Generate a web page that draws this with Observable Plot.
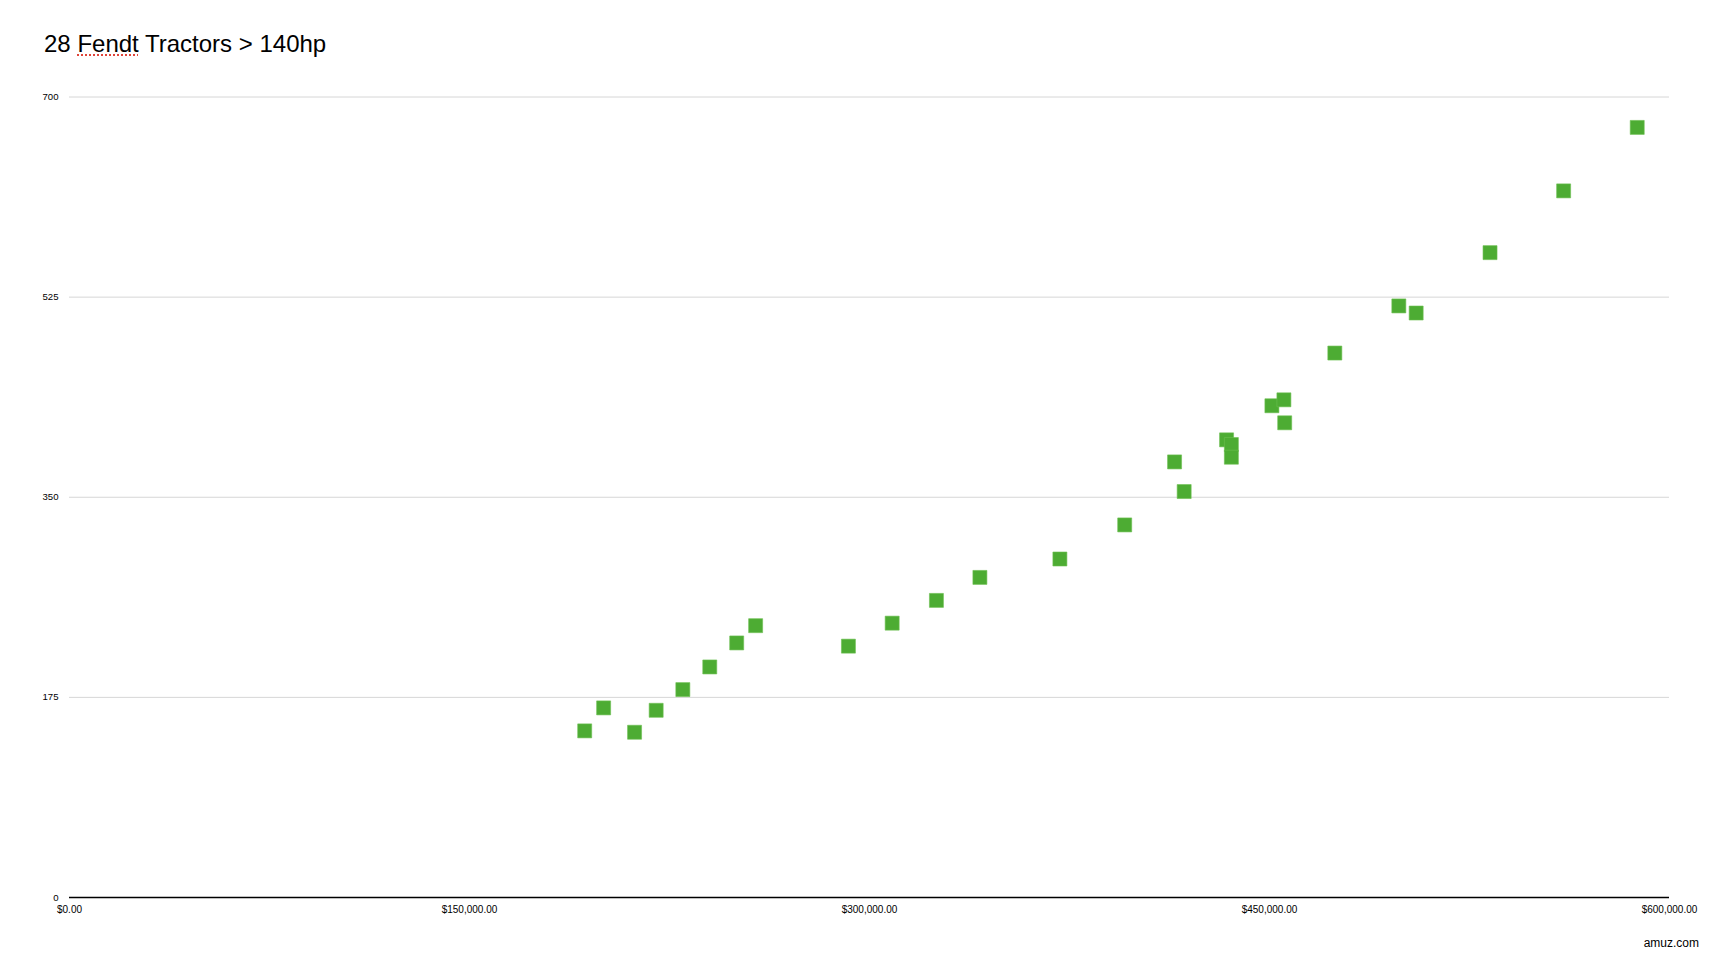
<!DOCTYPE html>
<html>
<head>
<meta charset="utf-8">
<script src="https://cdn.jsdelivr.net/npm/d3@7"></script>
<script src="https://cdn.jsdelivr.net/npm/@observablehq/plot@0.6"></script>
<style>
  html, body { margin: 0; padding: 0; background: #fff; }
  body { width: 1732px; height: 966px; overflow: hidden; font-family: "Liberation Sans", Arial, sans-serif; }
  #title { box-sizing: border-box; height: 70px; padding: 32px 0 0 44px; font-size: 24px; line-height: 24px; color: #000; }
  #title .sp { text-decoration: underline dotted #e0443a; text-underline-offset: 2px; text-decoration-thickness: 1.5px; }
  #chart svg { display: block; }
  #caption { box-sizing: border-box; height: 36px; padding: 7px 33px 0 0; text-align: right; font-size: 12px; line-height: 12px; color: #000; }
</style>
</head>
<body>
<div id="title">28 <span class="sp">Fendt</span> Tractors &gt; 140hp</div>
<div id="chart"></div>
<div id="caption">amuz.com</div>
<script>
// Price (USD) of each tractor
const price = [193200, 200300, 211900, 220000, 230000, 240100, 250200, 257300,
  292100, 308500, 325100, 341400, 371400, 395700, 414400, 418000,
  433900, 435700, 435700, 450900, 455400, 455700, 474500, 498500,
  505000, 532700, 560300, 587900];
// Horsepower of each tractor
const hp = [145.7, 165.8, 144.5, 163.7, 181.8, 201.6, 222.6, 237.7,
  219.8, 239.9, 259.8, 279.9, 296, 325.8, 380.9, 355,
  400.2, 396.1, 385, 430, 435.2, 415.1, 476.1, 517.3,
  511.1, 563.9, 617.9, 673.4];
const xTicks = [0, 150000, 300000, 450000, 600000];
const yTicks = [0, 175, 350, 525, 700];
const gridTicks = [175, 350, 525, 700];

const data = price.map((p, i) => ({price: p, hp: hp[i]}));

const chart = Plot.plot({
  width: 1732,
  height: 860,
  marginTop: 26.5,
  marginBottom: 33,
  marginLeft: 69,
  marginRight: 63,
  style: {fontFamily: "'Liberation Sans', Arial, sans-serif", fontSize: "10px", color: "#000", background: "transparent"},
  x: {domain: [0, 600000], ticks: xTicks, tickFormat: d3.format("$,.2f"), label: null},
  y: {domain: [0, 700], ticks: yTicks, label: null},
  marks: [
    Plot.ruleY(gridTicks, {stroke: "#d6d6d6", strokeWidth: 1}),
    Plot.ruleY([0], {stroke: "#000", strokeWidth: 1.4}),
    Plot.axisX({ticks: xTicks, tickFormat: d3.format("$,.2f"), tickSize: 0, tickPadding: 8, fontSize: 10, label: null}),
    Plot.axisY({ticks: yTicks, tickSize: 0, tickPadding: 11, fontSize: 9.6, label: null}),
    Plot.dot(data, {x: "price", y: "hp", symbol: "square", r: 7.9, fill: "#4dac33", stroke: "#6cc051", strokeWidth: 0.6})
  ]
});
document.getElementById("chart").appendChild(chart);
</script>
</body>
</html>
